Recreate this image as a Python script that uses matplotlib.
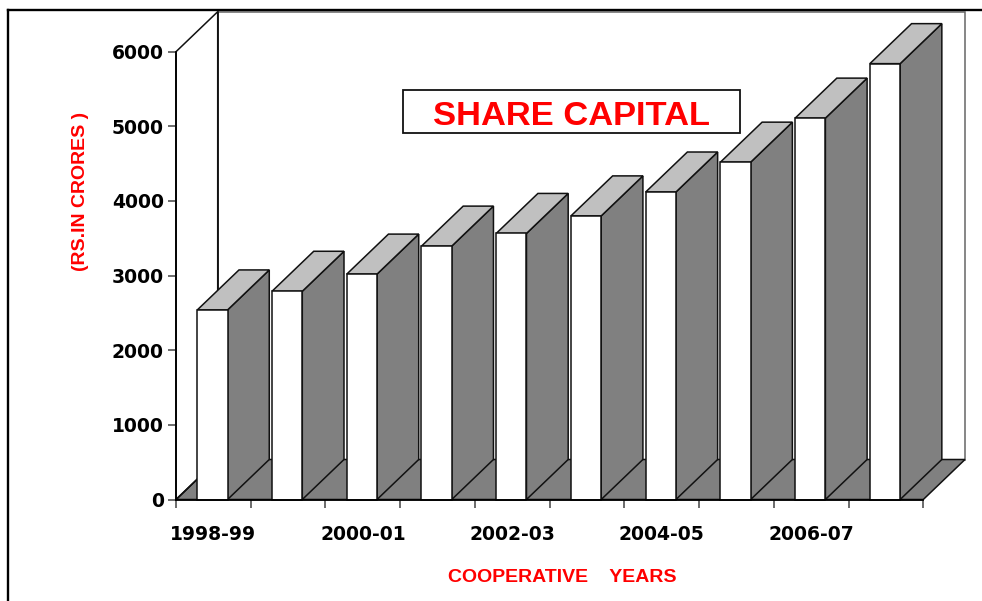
import matplotlib
matplotlib.use("Agg")
import matplotlib.pyplot as plt
from matplotlib.patches import Polygon, Rectangle
from matplotlib.lines import Line2D

# ---- data ----
years = ['1998-99', '1999-00', '2000-01', '2001-02', '2002-03',
         '2003-04', '2004-05', '2005-06', '2006-07', '2007-08']
share_capital = [2540, 2790, 3020, 3395, 3565, 3800, 4120, 4520, 5110, 5840]
y_ticks = [0, 1000, 2000, 3000, 4000, 5000, 6000]
title = 'SHARE CAPITAL'
x_title = 'COOPERATIVE    YEARS'
y_title = '(RS.IN CRORES )'

# ---- style / geometry ----
W, H = 982, 601
fig = plt.figure(figsize=(W / 100, H / 100), dpi=100)
x0_px, x1_px = 176.0, 923.3
y0_px, y1_px = 499.5, 51.7
ax = fig.add_axes([x0_px / W, (H - y0_px) / H, (x1_px - x0_px) / W, (y0_px - y1_px) / H])
n = len(years)
ymax = 6000
ax.set_xlim(0, n)
ax.set_ylim(0, ymax)
ax.patch.set_visible(False)

# depth offset in data units (41.7 px right, 40 px up)
DX = 41.7 / ((x1_px - x0_px) / n)
DY = 40.0 / ((y0_px - y1_px) / ymax)

edge = '#111111'
lw = 1.1
kw = dict(clip_on=False, joinstyle='miter')

# floor
ax.add_patch(Polygon([(0, 0), (n, 0), (n + DX, DY), (DX, DY)], closed=True,
                     facecolor='#808080', edgecolor=edge, lw=lw, zorder=1, **kw))
# left wall
ax.add_patch(Polygon([(0, 0), (DX, DY), (DX, ymax + DY), (0, ymax)], closed=True,
                     facecolor='white', edgecolor=edge, lw=lw, zorder=1, **kw))
# back wall
ax.add_patch(Polygon([(DX, DY), (n + DX, DY), (n + DX, ymax + DY), (DX, ymax + DY)],
                     closed=True, facecolor='white', edgecolor='#666666', lw=lw,
                     zorder=0.9, **kw))
ax.plot([DX, DX], [DY, ymax + DY], color=edge, lw=lw, clip_on=False, zorder=1.1)
ax.plot([0, DX], [0, DY], color=edge, lw=lw, clip_on=False, zorder=1.1)

# bars
left_off, bw = 0.285, 0.405
for i, v in enumerate(share_capital):
    l = i + left_off
    r = l + bw
    z = 2 + i * 0.01
    ax.add_patch(Polygon([(r, 0), (r, v), (r + DX, v + DY), (r + DX, DY)], closed=True,
                         facecolor='#808080', edgecolor=edge, lw=lw, zorder=z, **kw))
    ax.add_patch(Polygon([(l, v), (r, v), (r + DX, v + DY), (l + DX, v + DY)], closed=True,
                         facecolor='#C0C0C0', edgecolor=edge, lw=lw, zorder=z, **kw))
    ax.add_patch(Polygon([(l, 0), (r, 0), (r, v), (l, v)], closed=True,
                         facecolor='white', edgecolor=edge, lw=lw, zorder=z, **kw))

# axes
for s in ['top', 'right']:
    ax.spines[s].set_visible(False)
for s in ['left', 'bottom']:
    ax.spines[s].set_color('black')
    ax.spines[s].set_linewidth(1.3)
    ax.spines[s].set_zorder(3)

tick_font = dict(family='DejaVu Sans', weight='bold', size=13.5)
ax.set_yticks(y_ticks)
ax.set_yticklabels([str(t) for t in y_ticks], fontdict=tick_font)
ax.tick_params(axis='y', length=5.8, width=1.1, color='#444444', pad=3.0)

ax.set_xticks(range(n + 1))
ax.set_xticklabels([''] * (n + 1))
ax.tick_params(axis='x', which='major', length=5.8, width=1.1, color='#444444')
ax.set_xticks([i + 0.5 for i in range(0, n, 2)], minor=True)
ax.set_xticklabels(years[::2], minor=True, fontdict=tick_font)
ax.tick_params(axis='x', which='minor', length=0, pad=18.5)

# titles
fig.add_artist(Rectangle((403.3 / W, (H - 133.3) / H), 336.7 / W, 43.3 / H,
                         transform=fig.transFigure, facecolor='white',
                         edgecolor='#111111', lw=1.3, zorder=5))
fig.text(571.5 / W, (H - 125.0) / H, title, ha='center', va='baseline',
         family='Liberation Sans', weight='bold', size=24.8, color='#FF0000', zorder=6)
fig.text(562.5 / W, (H - 581.7) / H, x_title, ha='center', va='baseline',
         family='Liberation Sans', weight='bold', size=14, color='#FF0000')
fig.text(80.5 / W, (H - 191.0) / H, y_title, ha='center', va='center', rotation=90,
         family='Liberation Sans', weight='bold', size=14, color='#FF0000')

# outer frame
fig.add_artist(Line2D([7.8 / W, 1.0], [1 - 9.5 / H] * 2, transform=fig.transFigure,
                      color='black', lw=1.7))
fig.add_artist(Line2D([7.8 / W] * 2, [0.0, 1 - 9.5 / H], transform=fig.transFigure,
                      color='black', lw=1.7))

fig.savefig('out.png', dpi=100)
